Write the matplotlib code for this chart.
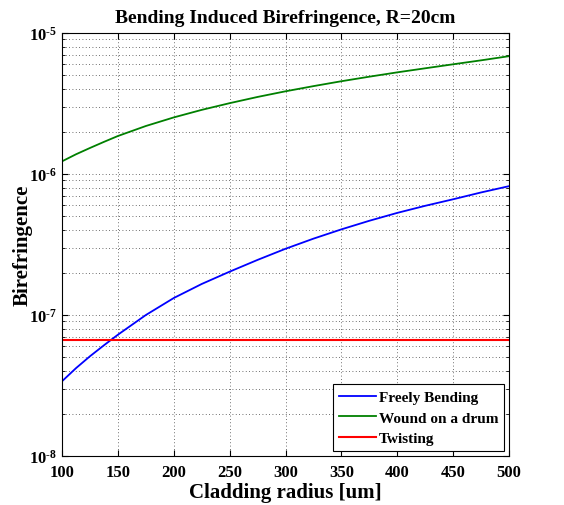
import matplotlib
matplotlib.use("Agg")
import matplotlib.pyplot as plt
from matplotlib.ticker import LogLocator, FixedLocator, FuncFormatter, NullFormatter
import numpy as np

plt.rcParams['font.family'] = 'Liberation Serif'
plt.rcParams['font.weight'] = 'bold'
plt.rcParams['mathtext.fontset'] = 'custom'
plt.rcParams['mathtext.rm'] = 'Liberation Serif:bold'
plt.rcParams['mathtext.bf'] = 'Liberation Serif:bold'
plt.rcParams['mathtext.it'] = 'Liberation Serif:bold'

# values
radius = [100, 112.5, 125, 137.5, 150, 175, 200, 225, 250, 275, 300, 325, 350,
          375, 400, 425, 450, 475, 500]
freely_bending = [3.39e-8, 4.2e-8, 5.1e-8, 6.1e-8, 7.25e-8, 1.0e-7, 1.32e-7, 1.66e-7,
                  2.03e-7, 2.46e-7, 2.95e-7, 3.48e-7, 4.05e-7, 4.66e-7, 5.3e-7,
                  5.95e-7, 6.62e-7, 7.4e-7, 8.2e-7]
wound_drum = [1.23e-6, 1.38e-6, 1.53e-6, 1.69e-6, 1.86e-6, 2.19e-6, 2.52e-6, 2.85e-6,
              3.18e-6, 3.52e-6, 3.86e-6, 4.2e-6, 4.55e-6, 4.9e-6, 5.26e-6,
              5.62e-6, 6.0e-6, 6.4e-6, 6.85e-6]
twisting = [6.65e-8] * len(radius)

fig = plt.figure(figsize=(5.64, 5.06), dpi=100)
ax = fig.add_axes([0.110, 0.0968, 0.7925, 0.836])

ax.plot(radius, freely_bending, color=(0, 0, 1), lw=1.3, label='Freely Bending')
ax.plot(radius, wound_drum, color=(0, 0.5, 0), lw=1.3, label='Wound on a drum')
ax.plot(radius, twisting, color=(1, 0, 0), lw=1.5, label='Twisting')

ax.set_yscale('log')
ax.set_xlim(100, 500)
ax.set_ylim(1e-8, 1e-5)
ax.xaxis.set_major_locator(FixedLocator(np.arange(100, 501, 50)))
ax.yaxis.set_major_locator(LogLocator(base=10, numticks=10))
ax.yaxis.set_minor_locator(LogLocator(base=10, subs=np.arange(2, 10), numticks=20))
ax.yaxis.set_minor_formatter(NullFormatter())
ax.yaxis.set_major_formatter(
    FuncFormatter(lambda v, p: r'$10^{\text{-}%d}$' % abs(int(round(np.log10(v))))))

grid_style = dict(linestyle=(0, (1, 3)), color='0.25', lw=0.6)
ax.grid(True, which='major', **grid_style)
ax.grid(True, which='minor', axis='y', **grid_style)
ax.tick_params(which='both', direction='in', top=True, right=True, labelsize=12)
ax.tick_params(which='major', length=4)
ax.tick_params(which='minor', length=2)
ax.tick_params(axis='x', pad=6)
for sp in ax.spines.values():
    sp.set_linewidth(0.8)

ax.set_title('Bending Induced Birefringence, R=20cm', fontsize=14, fontweight='bold', pad=8)
ax.set_xlabel('Cladding radius [um]', fontsize=15, fontweight='bold', labelpad=1)
ax.set_ylabel('Birefringence', fontsize=15, fontweight='bold')
ax.yaxis.set_label_coords(-0.066, 0.5)

leg = ax.legend(loc='lower right', fontsize=11, fancybox=False, framealpha=1,
                edgecolor='black', handlelength=2.4, handletextpad=0.2,
                borderaxespad=0.3, labelspacing=0.45, borderpad=0.4)
leg.get_frame().set_linewidth(0.8)

fig.savefig('out.png', dpi=100)
